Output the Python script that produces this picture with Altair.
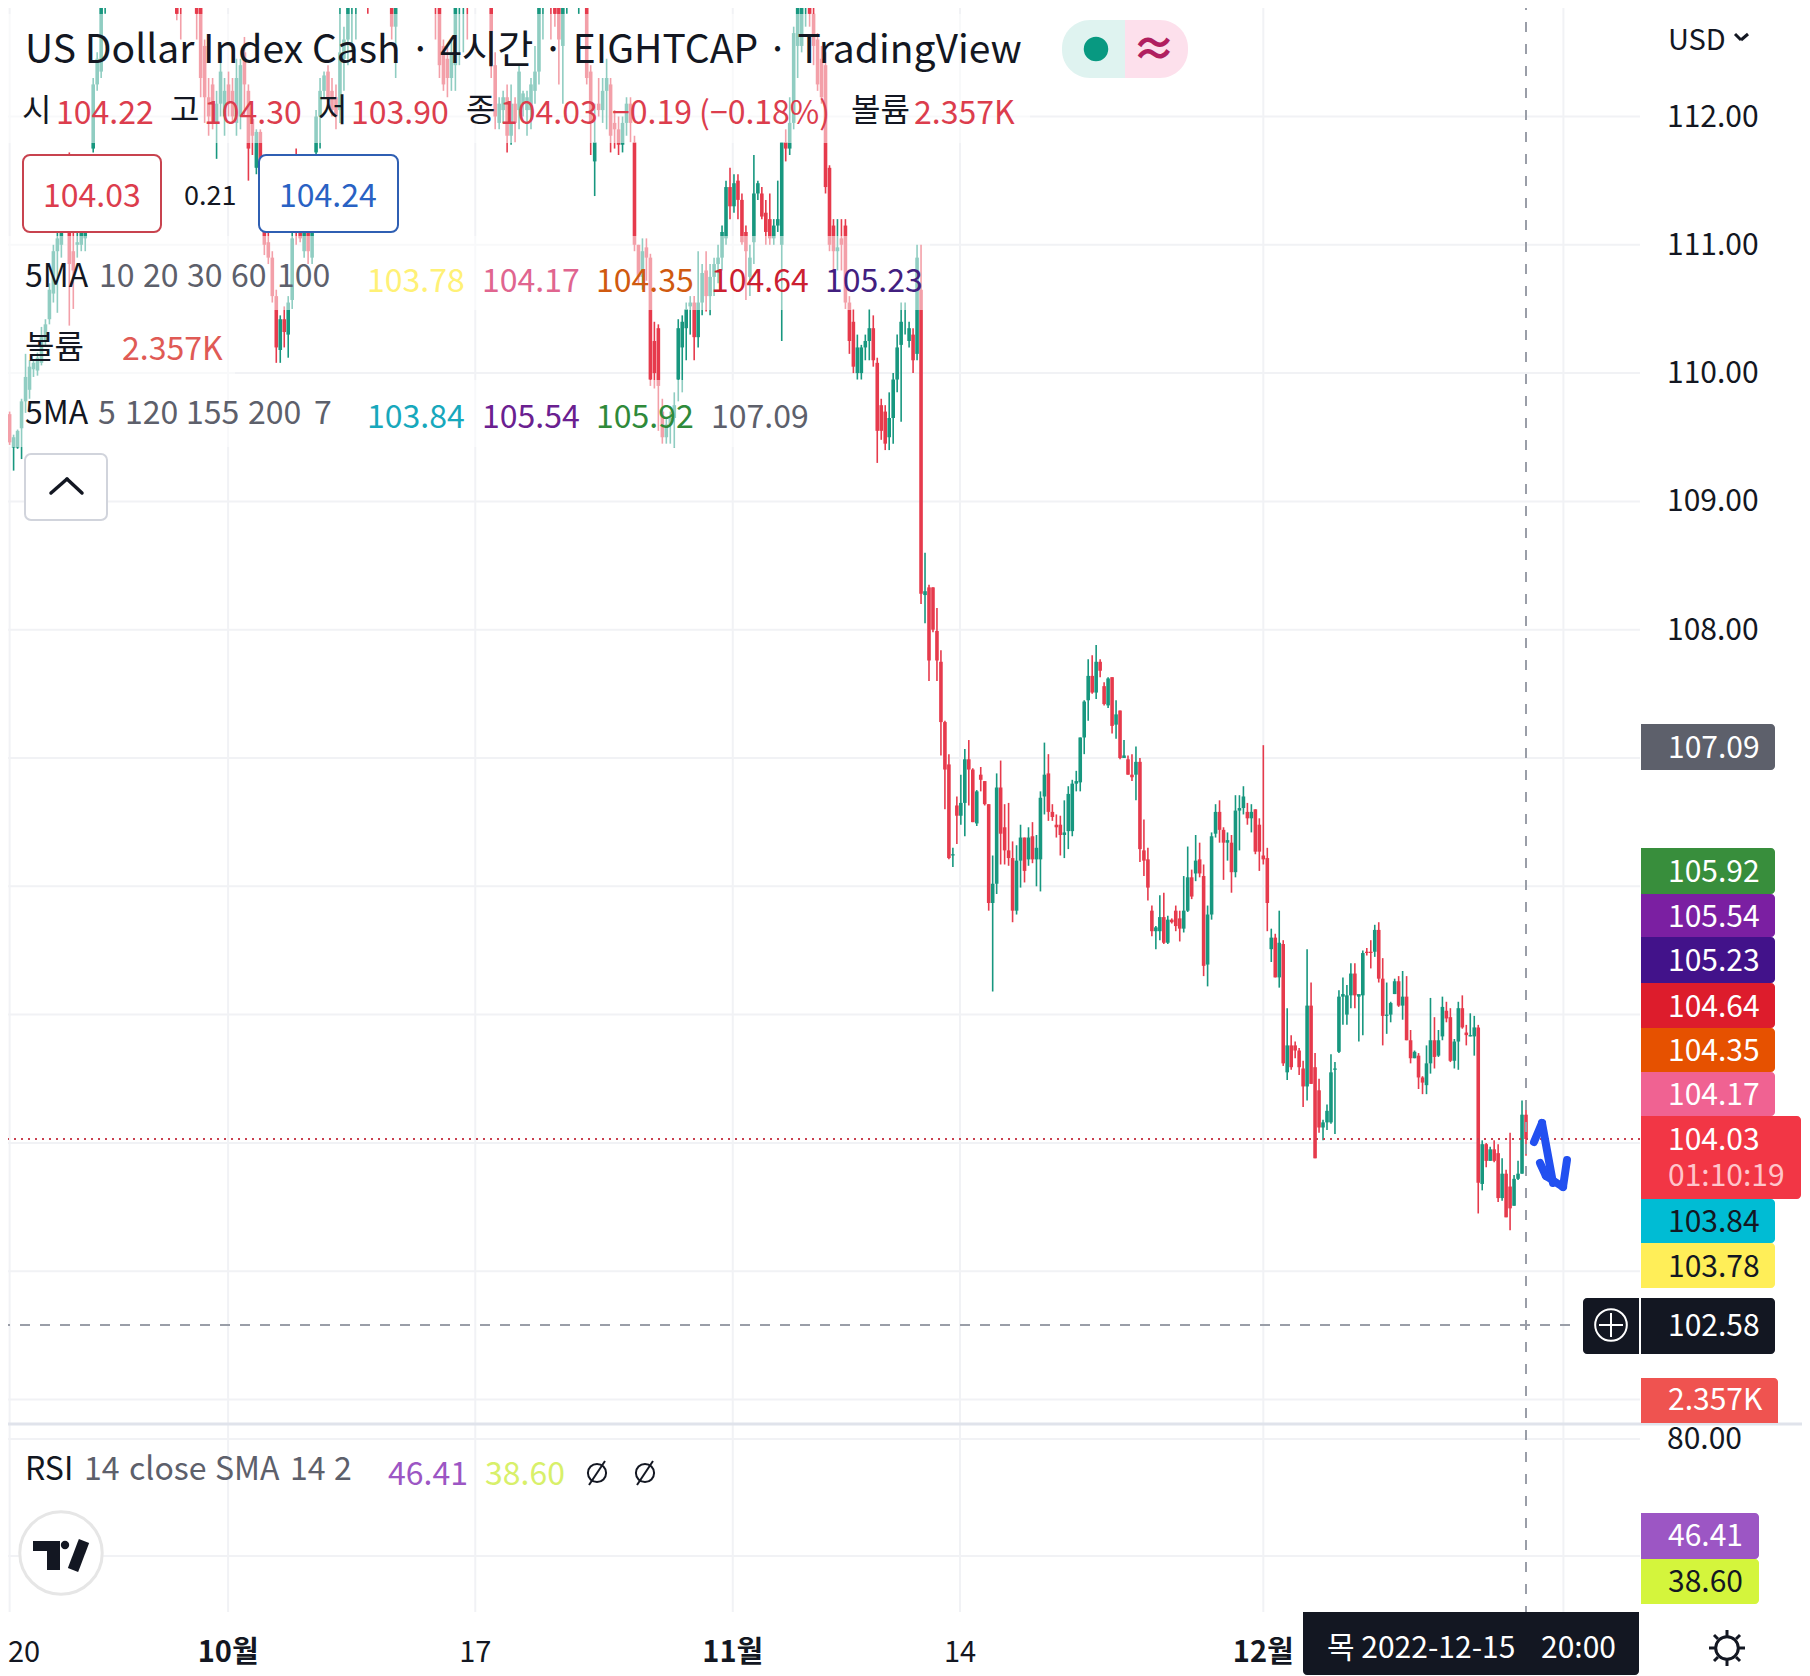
import altair as alt
import pandas as pd

# (open, high, low, close)
CANDLES_A = [
(110.06,110.08,109.85,109.88),(109.92,109.93,109.57,109.60),(109.68,109.70,109.44,109.46),(109.42,109.52,109.24,109.50),
(109.42,109.56,109.41,109.55),(109.57,109.80,109.33,109.78),(109.78,110.15,109.69,109.97),(109.87,110.10,109.80,110.05),
(110.03,110.10,109.97,110.08),(110.02,110.16,109.98,110.12),(110.08,110.36,110.06,110.28),(110.25,110.42,110.22,110.38),
(110.42,110.70,110.38,110.65),(110.62,111.00,110.55,110.95),(110.95,111.10,110.47,111.05),(111.00,111.30,110.90,111.20),
(111.20,111.40,111.10,111.35),(111.10,111.72,110.37,110.85),(110.95,111.20,110.50,110.80),(111.00,111.10,110.90,111.02),
(111.00,111.20,110.95,111.15),(111.05,111.30,110.95,111.25),(111.25,111.50,111.20,111.45),(111.75,112.30,111.72,112.25),
(112.25,112.50,112.20,112.45),(112.35,113.00,112.30,112.95),(112.90,113.20,112.80,113.10),
]
CANDLES_B = [
(113.10,113.30,113.00,113.20),(113.20,113.40,113.10,113.30),(113.30,113.50,113.20,113.40),(113.40,113.60,113.30,113.50),
(113.50,113.70,113.40,113.60),(113.60,113.70,113.40,113.50),(113.50,113.60,113.30,113.40),(113.40,113.60,113.30,113.55),
(113.55,113.70,113.40,113.45),(113.45,113.60,113.30,113.35),(113.35,113.50,113.20,113.45),(113.45,113.60,113.30,113.40),
(113.40,113.50,113.20,113.30),(113.30,113.50,113.20,113.40),(113.40,113.50,113.20,113.25),(113.25,113.40,113.10,113.35),
(113.35,113.40,113.10,113.20),
(113.20,113.40,112.75,112.80),(112.95,113.10,112.60,112.85),(113.10,113.30,113.00,113.20),(113.20,113.40,113.10,113.30),
(113.20,113.30,113.00,113.10),(113.10,113.20,112.60,112.80),(112.85,113.00,112.15,112.30),(112.55,112.60,111.95,112.15),
(112.15,112.30,111.85,112.00),(112.25,112.30,111.90,111.95),(111.95,112.20,111.67,112.10),(112.10,112.55,112.00,112.35),
(112.00,112.30,111.85,112.20),(112.25,112.35,112.00,112.10),(112.20,112.30,111.95,112.00),(111.95,112.45,111.85,112.30),
(112.00,112.45,111.90,112.40),(112.50,112.62,112.00,112.25),(112.20,112.25,111.50,111.75),(111.98,112.00,111.70,111.85),
(111.60,111.90,111.55,111.88),(111.88,111.90,111.60,111.65),
]
CANDLES_C = [
(111.20,111.30,110.92,111.00),(111.02,111.20,110.85,110.90),(110.90,110.95,110.55,110.60),(110.60,110.65,110.08,110.20),
(110.18,110.45,110.08,110.42),(110.42,110.52,110.20,110.32),(110.30,110.60,110.12,110.55),(110.57,111.10,110.50,111.05),
(111.30,111.75,111.00,111.10),(111.15,111.30,111.02,111.05),(110.95,111.20,110.90,111.15),(111.15,111.20,110.85,110.95),
(110.90,111.30,110.85,111.20),(111.72,112.05,111.70,112.00),(112.00,112.30,111.75,112.20),(112.20,112.35,112.15,112.32),
(112.35,112.40,112.10,112.15),(112.20,112.30,112.00,112.05),(112.15,112.25,111.90,112.00),(112.05,113.00,111.95,112.50),
(112.45,112.70,112.20,112.60),(112.60,113.10,112.40,113.00),(112.90,113.20,112.50,113.10),(113.00,113.20,112.60,113.10),
(113.10,113.30,112.90,113.20),(113.20,113.40,113.10,113.30),(113.30,113.40,112.80,113.15),
(113.20,113.40,113.10,113.30),(113.30,113.50,113.20,113.40),(113.40,113.50,113.20,113.30),(113.30,113.40,113.10,113.35),
(113.35,113.40,112.90,113.10),(113.30,113.40,112.60,112.70),(112.70,113.10,112.30,112.95),
(113.00,113.20,112.95,113.10),(113.10,113.30,113.00,113.25),(113.25,113.40,113.10,113.35),(113.35,113.50,113.20,113.45),
(113.45,113.60,113.30,113.40),(113.40,113.50,113.20,113.30),(113.30,113.50,113.20,113.45),(113.45,113.60,113.30,113.35),
(113.35,113.40,113.10,113.25),
(113.20,113.30,112.60,113.00),(113.00,113.20,112.30,112.40),(112.55,112.60,112.20,112.25),(112.45,112.55,112.15,112.30),
(112.30,112.60,112.20,112.50),(112.40,113.10,112.20,113.00),(112.95,113.20,112.40,113.10),(113.05,113.20,112.50,113.10),
(113.10,113.20,112.60,112.90),(113.10,113.30,113.00,113.20),(113.20,113.30,113.00,113.10),(113.10,113.30,113.00,113.20),
(113.20,113.30,112.85,113.10),(113.10,113.20,112.85,113.00),(113.00,113.10,112.30,112.40),(112.40,112.50,111.90,112.00),
(111.95,112.15,111.90,112.10),(112.05,112.20,111.95,112.15),(112.15,112.25,111.72,111.85),(111.85,112.25,111.78,112.10),
(112.10,112.15,111.80,111.95),(112.05,112.40,111.90,112.35),(112.10,112.20,112.00,112.18),(112.05,112.20,111.85,112.15),
(112.05,112.30,111.90,112.25),(112.20,112.55,112.10,112.35),(112.35,113.10,112.25,113.00),(113.00,113.20,112.60,113.10),
(113.10,113.20,112.85,113.00),(113.00,113.20,112.60,112.90),(112.90,113.10,112.70,112.80),(112.90,113.00,112.25,112.60),
(112.55,113.00,112.10,112.85),(112.85,113.00,112.80,112.95),(112.95,113.20,112.90,113.10),(113.10,113.20,113.00,113.15),
(113.00,113.20,112.80,113.10),(113.10,113.20,112.85,113.00),(113.00,113.10,112.25,112.30),(112.35,112.40,111.70,111.95),
(111.65,112.10,111.38,111.80),(112.10,112.30,112.00,112.05),(112.05,112.30,111.95,112.20),(112.20,112.45,111.90,112.30),
(112.25,112.30,111.72,111.85),(111.95,112.05,111.75,111.90),(111.90,112.00,111.70,111.78),
]
CANDLES_D = [
(111.78,112.00,111.72,111.95),(111.95,112.15,111.85,112.10),(112.10,112.15,111.80,111.95),(111.80,111.85,110.95,111.00),
(111.00,111.00,110.70,110.75),(110.75,111.05,110.65,110.95),(110.98,111.05,110.72,110.90),(110.90,110.93,109.90,109.95),
(110.25,110.40,109.88,110.00),(110.35,110.38,109.55,109.90),(109.70,109.80,109.45,109.50),(109.50,109.65,109.45,109.60),
(109.60,109.70,109.45,109.65),(109.65,109.85,109.42,109.75),(109.95,110.42,109.78,110.35),(110.20,110.45,109.85,110.40),
(110.35,110.55,110.10,110.50),(110.52,110.60,110.30,110.55),(110.55,110.60,110.10,110.28),(110.28,110.95,110.20,110.55),
(110.55,110.85,110.45,110.78),(110.80,110.95,110.48,110.60),(110.60,110.85,110.45,110.75),(110.75,110.90,110.60,110.85),
(110.85,111.00,110.70,110.90),(110.90,111.15,110.80,111.10),(111.05,111.50,111.00,111.45),(111.45,111.60,111.20,111.30),
(111.30,111.55,111.25,111.48),(111.50,111.55,111.20,111.35),(111.35,111.40,111.00,111.02),(111.10,111.15,110.57,110.95),
(110.75,111.00,110.60,110.90),(111.02,111.70,110.85,111.40),(111.40,111.50,111.35,111.48),(111.40,111.45,111.20,111.22),
(111.25,111.35,111.00,111.10),(111.20,111.40,111.00,111.05),(111.05,111.20,111.00,111.15),(111.15,111.50,111.10,111.20),
(111.00,111.80,110.25,111.80),(111.80,111.90,111.65,111.75),(111.75,112.15,111.70,111.95),(111.95,112.70,111.90,112.65),
(112.55,113.00,112.30,112.85),(112.55,112.90,112.50,112.85),(112.85,113.00,112.70,112.90),(112.90,113.00,112.70,112.80),
(112.80,113.00,112.40,112.55),(112.60,112.65,112.20,112.25),(112.45,112.55,112.10,112.15),(112.40,112.50,111.40,111.45),
(111.60,111.62,110.95,111.00),(111.15,111.20,110.80,110.95),(110.95,111.20,110.80,110.98),(111.05,111.20,110.80,111.00),
(111.15,111.20,110.50,110.55),(110.55,110.60,110.15,110.25),(110.40,110.50,110.00,110.05),(110.00,110.30,109.95,110.20),
(110.00,110.22,109.95,110.20),(110.20,110.30,110.10,110.25),(110.25,110.50,110.10,110.35),(110.35,110.45,110.05,110.10),
(110.08,110.12,109.30,109.55),(109.75,109.80,109.48,109.55),(109.70,109.75,109.40,109.45),(109.50,109.85,109.40,109.65),
(109.65,110.00,109.45,109.95),(109.95,110.30,109.85,110.20),(110.22,110.55,109.62,110.40),(110.40,110.55,110.30,110.40),
(110.25,110.40,110.20,110.35),(110.30,110.35,110.00,110.10),(110.15,111.00,110.10,110.90),(110.65,111.00,108.20,108.28),
(108.27,108.60,108.05,108.30),
]
CANDLES_E = [
(108.33,108.35,107.60,107.76),(108.33,108.33,107.98,108.00),(107.99,108.17,107.60,107.76),(107.75,107.84,107.02,107.28),
(107.28,107.29,106.60,106.91),(106.95,107.03,106.21,106.22),(106.24,106.30,106.15,106.25),(106.63,106.70,106.33,106.55),
(106.55,106.87,106.48,106.65),(106.65,107.07,106.39,106.99),(106.99,107.14,106.63,106.91),(106.91,106.92,106.50,106.50),
(106.49,106.75,106.47,106.74),(106.87,106.93,106.74,106.83),(106.82,106.82,106.63,106.64),(106.64,106.64,105.81,105.87),
(105.87,106.24,105.18,106.02),(106.02,106.88,105.94,106.77),(106.77,106.98,106.17,106.41),(106.46,106.64,106.17,106.28),
(106.28,106.65,106.16,106.22),(106.22,106.35,105.72,105.81),(105.81,106.32,105.78,106.20),(106.20,106.48,105.99,106.38),
(106.38,106.38,106.03,106.12),(106.21,106.46,106.16,106.38),(106.39,106.50,106.18,106.21),(106.21,106.40,106.00,106.30),
(106.21,106.74,105.96,106.69),
(106.70,107.12,106.56,106.87),(106.88,107.03,106.51,106.58),(106.58,106.64,106.51,106.54),(106.48,106.56,106.38,106.46),
(106.48,106.55,106.24,106.40),(106.40,106.67,106.22,106.42),(106.43,106.78,106.29,106.72),(106.43,106.83,106.39,106.80),
(106.80,106.90,106.74,106.82),(106.81,107.16,106.74,107.16),(107.16,107.45,107.03,107.44),(107.45,107.77,107.29,107.64),
(107.64,107.80,107.50,107.51),(107.51,107.88,107.46,107.75),(107.75,107.77,107.63,107.68),(107.56,107.59,107.41,107.42),
(107.41,107.63,107.39,107.62),(107.63,107.63,107.19,107.25),(107.26,107.45,107.15,107.34),(107.37,107.37,106.99,107.00),
(107.00,107.14,107.00,107.02),(106.99,107.02,106.87,106.87),(106.87,107.03,106.82,106.85),(106.87,107.09,106.67,106.97),
(106.97,107.00,106.19,106.29),(106.28,106.52,106.08,106.20),(106.21,106.30,105.89,105.99),(105.81,105.85,105.61,105.65),
(105.65,105.69,105.51,105.68),(105.65,105.93,105.58,105.76),(105.76,105.95,105.55,105.56),(105.56,105.77,105.55,105.74),
(105.74,105.75,105.71,105.72),(105.81,105.85,105.65,105.69),(105.75,105.81,105.57,105.67),(105.67,106.08,105.64,105.81),
(105.81,106.31,105.80,106.07),(106.07,106.13,105.90,105.92),(106.10,106.40,106.04,106.20),(106.21,106.34,106.07,106.10),
(106.08,106.17,105.30,105.38),(105.39,105.85,105.22,105.78),(105.78,106.42,105.74,106.39),(106.41,106.64,106.38,106.58),
(106.58,106.67,106.34,106.44),(106.44,106.46,106.05,106.34),(106.34,106.42,106.20,106.36),(106.34,106.40,105.95,106.11),(106.11,106.71,106.07,106.59),
(106.59,106.71,106.28,106.61),(106.61,106.78,106.56,106.70),(106.58,106.65,106.48,106.53),(106.53,106.64,106.42,106.58),
(106.60,106.60,106.25,106.27),(106.48,106.53,106.12,106.27),(106.24,107.10,106.17,106.21),(106.22,106.30,105.65,105.87),
(105.51,105.67,105.41,105.60),(105.60,105.63,105.29,105.29),(105.29,105.81,105.21,105.56),
]
CANDLES_F = [
(105.55,105.58,104.60,104.62),(104.55,105.05,104.49,104.76),(104.76,104.84,104.57,104.59),(104.76,104.79,104.66,104.72),
(104.72,104.74,104.53,104.59),(104.58,104.64,104.28,104.44),(104.44,105.51,104.33,105.07),(105.07,105.25,104.46,104.46),
(104.59,104.70,103.88,103.88),(104.41,104.50,104.08,104.12),(104.12,104.18,104.02,104.16),(104.16,104.30,104.10,104.25),(104.16,104.69,104.15,104.55),
(104.57,104.63,104.07,104.58),(104.71,105.19,104.70,105.14),(105.14,105.29,104.92,105.16),(105.00,105.23,104.92,105.15),
(105.15,105.40,105.05,105.32),(105.32,105.40,105.05,105.15),(105.14,105.15,104.79,105.16),(105.15,105.50,104.84,105.48),
(105.49,105.52,105.46,105.48),(105.49,105.58,105.36,105.48),(105.49,105.70,105.45,105.66),(105.66,105.72,105.25,105.28),
(105.28,105.44,104.76,104.99),(104.99,105.25,104.85,105.00),(105.00,105.10,104.94,105.09),(105.16,105.28,105.16,105.26),
(105.26,105.30,105.06,105.07),(105.07,105.34,104.96,105.14),(105.14,105.30,104.80,104.80),(104.80,104.88,104.62,104.66),
(104.66,104.72,104.66,104.71),(104.68,104.70,104.42,104.51),(104.51,104.52,104.38,104.47),(104.45,104.76,104.38,104.62),
(104.62,105.13,104.54,104.80),(104.80,104.98,104.58,104.67),(104.68,104.88,104.67,104.80),(104.83,105.14,104.80,105.06),
(105.03,105.10,104.94,104.97),(104.98,105.05,104.63,104.64),(104.64,104.81,104.58,104.79),(104.79,105.10,104.57,105.05),
(105.05,105.15,104.89,104.90),(104.86,104.92,104.76,104.84),(104.83,105.01,104.83,104.84),(104.83,104.99,104.68,104.90),
(104.90,104.92,103.45,103.69),(103.68,104.02,103.63,103.99),(103.99,104.00,103.81,103.86),(103.86,103.97,103.86,103.95),
(103.95,104.02,103.85,103.86),(103.92,103.99,103.54,103.57),(103.57,103.88,103.55,103.76),(103.76,103.79,103.42,103.42),
(103.66,104.08,103.32,103.49),(103.51,103.75,103.51,103.72),(103.72,103.86,103.71,103.76),(103.76,104.33,103.76,104.22),
(104.22,104.30,103.90,104.03),
]

PRICE_TICKS = [112, 111, 110, 109, 108]
GRID_PRICES = [112, 111, 110, 109, 108, 107, 106, 105, 104, 103, 102]
LAST_PRICE = 104.03
CROSS_PRICE = 102.58
PLAIN_TICKS = ["17", "14"]
PLAIN_TICK_IDX = [119.0, 240.8]
FIRST_TICK_IDX = [2.0]
BOLD_TICKS = ["10월", "11월", "12월"]
BOLD_TICK_IDX = [56.9, 183.7, 317.0]
EXTRA_GRID_IDX = [392.4]
MA_A = ["103.78", "104.17", "104.35", "104.64", "105.23"]
MA_B = ["103.84", "105.54", "105.92", "107.09"]

rows = CANDLES_A + CANDLES_B + CANDLES_C + CANDLES_D + CANDLES_E + CANDLES_F
N = len(rows)
df = pd.DataFrame(rows, columns=["o", "h", "l", "c"])
df["i"] = range(N)
df["col"] = ["#17977f" if r[3] >= r[0] else "#e63a4c" for r in rows]

W, H = 1802, 1676
STEP = 3.98
PX = 128.3
xs = alt.Scale(domain=[(N - 1) - 1526 / STEP, (N - 1) + (W - 1526) / STEP], range=[0, W], nice=False, zero=False)
ys = alt.Scale(domain=[112 + 116.5 / PX, 112 - (H - 116.5) / PX], range=[0, H], nice=False, zero=False)
ONE = pd.DataFrame({"a": [0]})
FONT = "Noto Sans CJK KR"
INK = "#131722"
GREY = "#5d606b"
GRID = "#f1f2f5"


def T(x, y, s, color=INK, size=32, align="left", weight="normal", baseline="alphabetic", opacity=1):
    return alt.Chart(ONE).mark_text(text=s, font=FONT, fontSize=size, color=color, align=align, fontWeight=weight,
                                    baseline=baseline, opacity=opacity).encode(x=alt.value(x), y=alt.value(y))


def R(x1, y1, x2, y2, fill, stroke=None, sw=0, r=0, op=1, **kw):
    args = dict(fill=fill, opacity=op, **kw)
    if r:
        args["cornerRadius"] = r
    if stroke:
        args["stroke"] = stroke
        args["strokeWidth"] = sw
    return alt.Chart(ONE).mark_rect(**args).encode(x=alt.value(x1), x2=alt.value(x2), y=alt.value(y1), y2=alt.value(y2))


def S(x1, y1, x2, y2, color, w=2, dash=None, cap="butt"):
    args = dict(color=color, strokeWidth=w, strokeCap=cap)
    if dash:
        args["strokeDash"] = dash
    return alt.Chart(ONE).mark_rule(**args).encode(x=alt.value(x1), x2=alt.value(x2), y=alt.value(y1), y2=alt.value(y2))


def C(x, y, size, fill=None, stroke=None, sw=0):
    args = dict(shape="circle", size=size, opacity=1)
    args["fill"] = fill if fill else "transparent"
    if stroke:
        args["stroke"] = stroke
        args["strokeWidth"] = sw
    else:
        args["strokeWidth"] = 0
    return alt.Chart(ONE).mark_point(**args).encode(x=alt.value(x), y=alt.value(y))


layers = []
# grid
layers.append(alt.Chart(pd.DataFrame({"p": GRID_PRICES})).mark_rule(color=GRID, strokeWidth=2).encode(
    y=alt.Y("p:Q", scale=ys, axis=None), x=alt.value(0), x2=alt.value(1640)))
layers.append(alt.Chart(pd.DataFrame({"t": FIRST_TICK_IDX + PLAIN_TICK_IDX + BOLD_TICK_IDX + EXTRA_GRID_IDX})).mark_rule(color=GRID, strokeWidth=2).encode(
    x=alt.X("t:Q", scale=xs, axis=None), y=alt.value(0), y2=alt.value(1612)))
layers.append(S(0, 1439, 1640, 1439, GRID))
layers.append(S(0, 1556, 1640, 1556, GRID))

# candles
base = alt.Chart(df)
layers.append(base.mark_rule(strokeWidth=1.6, clip=True).encode(
    x=alt.X("i:Q", scale=xs, axis=None), y=alt.Y("h:Q", scale=ys, axis=None), y2="l:Q",
    color=alt.Color("col:N", scale=None, legend=None)))
layers.append(base.mark_rule(strokeWidth=3.6, clip=True).encode(
    x=alt.X("i:Q", scale=xs, axis=None), y=alt.Y("o:Q", scale=ys, axis=None), y2="c:Q",
    color=alt.Color("col:N", scale=None, legend=None)))

# faded legend rows
for x2, y1, y2 in [(1030, 14, 143), (930, 236, 310), (235, 310, 380), (815, 380, 447)]:
    layers.append(R(0, y1, x2, y2, "#ffffff", op=0.52))

# price lines
layers.append(alt.Chart(pd.DataFrame({"p": [LAST_PRICE]})).mark_rule(color="#c9404f", strokeWidth=2, strokeDash=[2, 5]).encode(
    y=alt.Y("p:Q", scale=ys, axis=None), x=alt.value(0), x2=alt.value(1641)))
layers.append(alt.Chart(pd.DataFrame({"p": [CROSS_PRICE]})).mark_rule(color="#9a9ea8", strokeWidth=2, strokeDash=[10, 10]).encode(
    y=alt.Y("p:Q", scale=ys, axis=None), x=alt.value(0), x2=alt.value(1574)))
layers.append(alt.Chart(pd.DataFrame({"t": [float(N - 1)]})).mark_rule(color="#9a9ea8", strokeWidth=2, strokeDash=[10, 12]).encode(
    x=alt.X("t:Q", scale=xs, axis=None), y=alt.value(0), y2=alt.value(1613)))
layers.append(S(0, 1424, W, 1424, "#e0e3eb", 3))

# title rows
layers.append(T(25, 63, "US Dollar Index Cash · 4시간 · EIGHTCAP · TradingView", size=39))
RED = "#dc3d4d"
for x, s in [(22, "시"), (170, "고"), (318, "저"), (466, "종"), (851, "볼륨")]:
    layers.append(T(x, 121, s, size=32))
for x, s in [(56, "104.22"), (204, "104.30"), (351, "103.90"), (500, "104.03"), (612, "−0.19 (−0.18%)"), (914, "2.357K")]:
    layers.append(T(x, 124, s, RED, size=32))

# pill
layers.append(R(1062, 20, 1125, 78, "#dff3f0", cornerRadiusTopLeft=28, cornerRadiusBottomLeft=28))
layers.append(R(1125, 20, 1188, 78, "#fde0ec", cornerRadiusTopRight=28, cornerRadiusBottomRight=28))
layers.append(C(1096, 49, 600, fill="#089981"))
layers.append(T(1154, 52, "≈", "#b01f5f", 44, "center", "bold", "middle"))
layers.append(T(1668, 50, "USD", size=29))
layers.append(S(1735, 34, 1741, 40, INK, 3))
layers.append(S(1741, 40, 1748, 34, INK, 3))

# boxes
layers.append(R(23, 155, 161, 232, "#ffffff", "#c8434f", 2, 7))
layers.append(R(259, 155, 398, 232, "#ffffff", "#2f5fb3", 2, 7))
layers.append(T(43, 207, "104.03", RED, 32))
layers.append(T(184, 205, "0.21", INK, 27))
layers.append(T(279, 207, "104.24", "#2962c4", 32))

# MA rows
layers.append(T(25, 287, "5MA", size=32))
for x, s in zip([99, 143, 187, 231, 277], ["10", "20", "30", "60", "100"]):
    layers.append(T(x, 287, s, GREY, 32))
for x, s, c in zip([367, 482, 596, 711, 825], MA_A, ["#fff176", "#e0658f", "#d05a10", "#cc2030", "#42207f"]):
    layers.append(T(x, 292, s, c, 32))
layers.append(T(25, 358, "볼륨", size=32))
layers.append(T(122, 360, "2.357K", "#e05a55", 32))
layers.append(T(25, 424, "5MA", size=32))
for x, s in zip([98, 125, 186, 248, 314], ["5", "120", "155", "200", "7"]):
    layers.append(T(x, 424, s, GREY, 32))
for x, s, c in zip([367, 482, 596, 711], MA_B, ["#17a8bc", "#6a2090", "#2f8a3a", GREY]):
    layers.append(T(x, 428, s, c, 32))

# collapse button
layers.append(R(25, 454, 107, 520, "#ffffff", "#d1d4dc", 2, 6))
layers.append(S(51, 493, 67, 479, INK, 3.5, cap="round"))
layers.append(S(67, 479, 82, 493, INK, 3.5, cap="round"))

# price ticks
layers.append(alt.Chart(pd.DataFrame({"p": PRICE_TICKS, "s": [f"{v:.2f}" for v in PRICE_TICKS]})).mark_text(
    font=FONT, fontSize=30, color=INK, align="left", baseline="middle", dy=1).encode(
    y=alt.Y("p:Q", scale=ys, axis=None), x=alt.value(1667), text="s:N"))

# tags
TAGS = [("107.09", 724, 770, "#5d606b", "#ffffff"), ("105.92", 848, 894, "#388e3c", "#ffffff"),
        ("105.54", 894, 937, "#7b1fa2", "#ffffff"), ("105.23", 937, 983, "#42128a", "#ffffff"),
        ("104.64", 983, 1028, "#dd1c2c", "#ffffff"), ("104.35", 1028, 1072, "#e65100", "#ffffff"),
        ("104.17", 1072, 1116, "#f06292", "#ffffff"), ("103.84", 1199, 1243, "#00bcd4", INK),
        ("103.78", 1243, 1288, "#ffee58", INK)]
for s, y1, y2, f, tc in TAGS:
    layers.append(R(1641, y1, 1775, y2, f, cornerRadiusTopRight=4, cornerRadiusBottomRight=4))
    layers.append(T(1668, (y1 + y2) / 2 + 2, s, tc, 30, baseline="middle"))
layers.append(R(1641, 1116, 1801, 1199, "#f23645", cornerRadiusTopRight=4, cornerRadiusBottomRight=4))
layers.append(T(1668, 1141, "104.03", "#ffffff", 30, baseline="middle"))
layers.append(T(1668, 1177, "01:10:19", "#ffc4ca", 30, baseline="middle"))

# crosshair tag
layers.append(R(1641, 1298, 1775, 1354, INK, cornerRadiusTopRight=4, cornerRadiusBottomRight=4))
layers.append(T(1668, 1327, "102.58", "#ffffff", 30, baseline="middle"))
layers.append(R(1583, 1298, 1639, 1354, INK, cornerRadiusTopLeft=4, cornerRadiusBottomLeft=4))
layers.append(C(1611, 1325, 1000, stroke="#ffffff", sw=2))
layers.append(S(1599, 1325, 1623, 1325, "#ffffff", 2))
layers.append(S(1611, 1313, 1611, 1337, "#ffffff", 2))

layers.append(R(1641, 1378, 1778, 1423, "#ef5350", cornerRadiusTopRight=4))
layers.append(T(1668, 1401, "2.357K", "#ffffff", 30, baseline="middle"))

# RSI pane
layers.append(T(1667, 1440, "80.00", INK, 30, baseline="middle"))
layers.append(R(1641, 1513, 1759, 1559, "#9c56c4", cornerRadiusTopRight=4, cornerRadiusBottomRight=4))
layers.append(T(1668, 1537, "46.41", "#ffffff", 30, baseline="middle"))
layers.append(R(1641, 1559, 1759, 1604, "#d4f53c", cornerRadiusTopRight=4, cornerRadiusBottomRight=4))
layers.append(T(1668, 1583, "38.60", INK, 30, baseline="middle"))
layers.append(T(25, 1480, "RSI", size=32))
for x, s in zip([84, 129, 215, 290, 334], ["14", "close", "SMA", "14", "2"]):
    layers.append(T(x, 1480, s, GREY, 32))
layers.append(T(388, 1485, "46.41", "#9c56c4", 32))
layers.append(T(485, 1485, "38.60", "#d8f06a", 32))
layers.append(C(597, 1473, 330, stroke=INK, sw=2))
layers.append(S(589, 1485, 605, 1461, INK, 2))
layers.append(C(645, 1473, 330, stroke=INK, sw=2))
layers.append(S(637, 1485, 653, 1461, INK, 2))

# logo
layers.append(C(61, 1553, 6800, fill="#ffffff", stroke="#e6e6e6", sw=3))
layers.append(R(33, 1541, 60, 1551, INK))
layers.append(R(47, 1541, 60, 1570, INK))
layers.append(C(65, 1545, 70, fill=INK))
layers.append(S(84, 1541, 73, 1570, INK, 11))

# time axis
layers.append(T(8, 1662, "20", INK, 29))
layers.append(alt.Chart(pd.DataFrame({"t": PLAIN_TICK_IDX, "s": PLAIN_TICKS})).mark_text(
    font=FONT, fontSize=29, color=INK, align="center", baseline="alphabetic").encode(
    x=alt.X("t:Q", scale=xs, axis=None), y=alt.value(1662), text="s:N"))
layers.append(alt.Chart(pd.DataFrame({"t": BOLD_TICK_IDX, "s": BOLD_TICKS})).mark_text(
    font=FONT, fontSize=29, fontWeight="bold", color=INK, align="center", baseline="alphabetic").encode(
    x=alt.X("t:Q", scale=xs, axis=None), y=alt.value(1662), text="s:N"))
layers.append(R(1303, 1612, 1639, 1675, INK, cornerRadiusBottomRight=4, cornerRadiusBottomLeft=4))
layers.append(T(1327, 1658, "목 2022-12-15", "#ffffff", 30))
layers.append(T(1541, 1658, "20:00", "#ffffff", 30))

# sun icon
layers.append(C(1727, 1648, 510, stroke=INK, sw=3))
for a in [(1727, 1630, 1727, 1636), (1727, 1660, 1727, 1666), (1709, 1648, 1715, 1648), (1739, 1648, 1745, 1648),
          (1714, 1635, 1718, 1639), (1736, 1657, 1740, 1661), (1714, 1661, 1718, 1657), (1736, 1639, 1740, 1635)]:
    layers.append(S(*a, INK, 3))

# hand-drawn arrow
BLUE = "#2250f0"
for a in [(1542, 1123, 1553, 1183), (1534, 1142, 1542, 1123), (1540, 1163, 1546, 1176), (1546, 1176, 1563, 1187), (1567, 1160, 1563, 1187)]:
    layers.append(S(*a, BLUE, 8, cap="round"))

chart = alt.layer(*layers).properties(
    width=W, height=H, background="#ffffff",
    padding={"left": -8, "top": -8, "right": 0, "bottom": 0},
    autosize=alt.AutoSizeParams(type="none"),
).configure_view(stroke=None)

chart.save("out.html", embed_options={"renderer": "svg", "actions": False})
